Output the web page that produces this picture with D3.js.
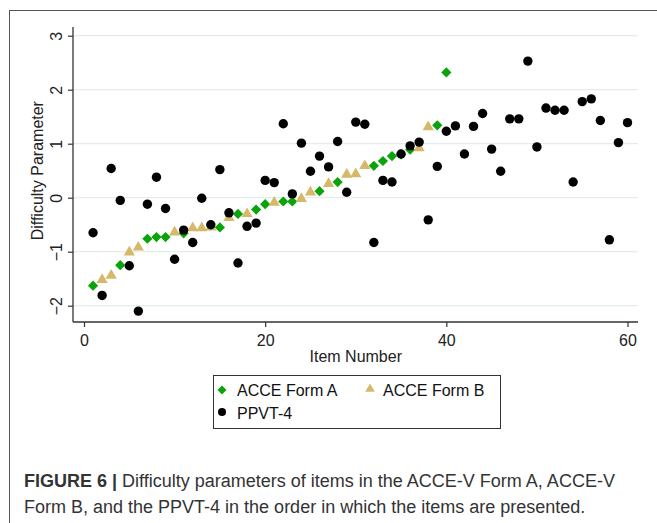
<!DOCTYPE html>
<html>
<head>
<meta charset="utf-8">
<script src="https://cdn.jsdelivr.net/npm/d3@7"></script>
<style>
  body { margin: 0; background: #fff; }
  svg { display: block; font-family: "Liberation Sans", Arial, sans-serif; }
</style>
</head>
<body>
<svg id="canvas" width="657" height="523"></svg>
<script>
// ---- data ----
var itemsA = [1, 4, 7, 8, 9, 11, 15, 17, 19, 20, 22, 23, 26, 28, 32, 33, 34, 35, 36, 39, 40];
var formA  = [-1.63, -1.25, -0.76, -0.73, -0.73, -0.66, -0.55, -0.30, -0.22, -0.12, -0.07, -0.07, 0.12, 0.29, 0.59, 0.68, 0.77, 0.80, 0.89, 1.34, 2.32];

var itemsB = [2, 3, 5, 6, 10, 12, 13, 14, 16, 18, 21, 24, 25, 27, 29, 30, 31, 37, 38];
var formB  = [-1.52, -1.44, -1.01, -0.92, -0.64, -0.56, -0.56, -0.55, -0.37, -0.30, -0.09, -0.02, 0.10, 0.26, 0.43, 0.44, 0.59, 0.92, 1.31];

var ppvt = [-0.65, -1.81, 0.54, -0.05, -1.26, -2.10, -0.12, 0.38, -0.20, -1.14,
            -0.60, -0.83, -0.01, -0.50, 0.52, -0.28, -1.21, -0.53, -0.47, 0.32,
             0.28, 1.37, 0.07, 1.01, 0.49, 0.77, 0.57, 1.04, 0.10, 1.40,
             1.36, -0.83, 0.32, 0.29, 0.81, 0.96, 1.03, -0.41, 0.58, 1.23,
             1.33, 0.81, 1.32, 1.56, 0.90, 0.49, 1.46, 1.46, 2.53, 0.94,
             1.66, 1.62, 1.62, 0.29, 1.78, 1.83, 1.43, -0.78, 1.02, 1.39];

var xTicks = [0, 20, 40, 60];
var yTicks = [-2, -1, 0, 1, 2, 3];
var legendLabels = ['ACCE Form A', 'ACCE Form B', 'PPVT-4'];
var captionBold = 'FIGURE 6 |';
var captionLine1 = ' Difficulty parameters of items in the ACCE-V Form A, ACCE-V';
var captionLine2 = 'Form B, and the PPVT-4 in the order in which the items are presented.';

// ---- layout ----
var svg = d3.select('#canvas');
var plot = { left: 73, right: 638, top: 27, bottom: 322 };
var green = '#0aa30a', sand = '#d6b86a', axisColor = '#333';

var xScale = d3.scaleLinear().domain([0, 60]).range([84, 627.5]);
var yScale = d3.scaleLinear().domain([-2, 3]).range([305.7, 35.7]);

// outer frame (runs past the right / bottom edge of the picture)
svg.append('rect').attr('x', 9.5).attr('y', 10.5).attr('width', 700).attr('height', 600)
  .attr('fill', 'none').attr('stroke', '#555').attr('stroke-width', 1);

// grid
svg.append('g').selectAll('line').data(yTicks).join('line')
  .attr('x1', plot.left).attr('x2', plot.right)
  .attr('y1', d => yScale(d)).attr('y2', d => yScale(d))
  .attr('stroke', '#e3edef').attr('stroke-width', 1.2);

// axes
var yAxis = svg.append('g').attr('transform', 'translate(' + plot.left + ',0)')
  .call(d3.axisLeft(yScale).tickValues(yTicks).tickSize(5).tickFormat(d3.format('d')));
yAxis.select('.domain').remove();
yAxis.selectAll('.tick line').attr('stroke', axisColor).attr('stroke-width', 1.2);
yAxis.selectAll('.tick text')
  .attr('transform', 'rotate(-90)').attr('text-anchor', 'middle')
  .attr('x', 0).attr('y', -11).attr('dy', null)
  .attr('fill', '#222').style('font-size', '16px');

var xAxis = svg.append('g').attr('transform', 'translate(0,' + plot.bottom + ')')
  .call(d3.axisBottom(xScale).tickValues(xTicks).tickSize(5));
xAxis.select('.domain').remove();
xAxis.selectAll('.tick line').attr('stroke', axisColor).attr('stroke-width', 1.2);
xAxis.selectAll('.tick text').attr('y', 24).attr('dy', null)
  .attr('fill', '#222').style('font-size', '16px');

svg.append('line').attr('x1', plot.left).attr('x2', plot.left).attr('y1', plot.top).attr('y2', plot.bottom)
  .attr('stroke', axisColor).attr('stroke-width', 1.3);
svg.append('line').attr('x1', plot.left).attr('x2', plot.right).attr('y1', plot.bottom).attr('y2', plot.bottom)
  .attr('stroke', axisColor).attr('stroke-width', 1.3);

// axis titles
svg.append('text').attr('x', (xScale(0) + xScale(60)) / 2).attr('y', 362).attr('text-anchor', 'middle')
  .attr('fill', '#222').style('font-size', '16px').text('Item Number');
svg.append('text').attr('transform', 'translate(43,' + (yScale(-2) + yScale(3)) / 2 + ') rotate(-90)')
  .attr('text-anchor', 'middle').attr('fill', '#222').style('font-size', '16px').text('Difficulty Parameter');

// markers
var diamond = d3.symbol().type(d3.symbolSquare).size(52);
var triangle = d3.symbol().type(d3.symbolTriangle).size(54);

svg.append('g').selectAll('path').data(itemsA).join('path')
  .attr('d', diamond)
  .attr('transform', (d, i) => 'translate(' + xScale(d) + ',' + yScale(formA[i]) + ') rotate(45)')
  .attr('fill', green);

svg.append('g').selectAll('path').data(itemsB).join('path')
  .attr('d', triangle)
  .attr('transform', (d, i) => 'translate(' + xScale(d) + ',' + yScale(formB[i]) + ')')
  .attr('fill', sand);

svg.append('g').selectAll('circle').data(ppvt).join('circle')
  .attr('cx', (d, i) => xScale(i + 1)).attr('cy', d => yScale(d)).attr('r', 4.7)
  .attr('fill', '#000');

// legend
var legend = svg.append('g').attr('transform', 'translate(213,375)');
legend.append('rect').attr('x', 0.5).attr('y', 0.5).attr('width', 287).attr('height', 53)
  .attr('fill', '#fff').attr('stroke', '#333').attr('stroke-width', 1);
legend.append('path').attr('d', d3.symbol().type(d3.symbolSquare).size(40))
  .attr('transform', 'translate(9,15) rotate(45)').attr('fill', green);
legend.append('path').attr('d', d3.symbol().type(d3.symbolTriangle).size(40))
  .attr('transform', 'translate(157,14)').attr('fill', sand);
legend.append('circle').attr('cx', 9).attr('cy', 37).attr('r', 4).attr('fill', '#000');
var legendPos = [[24, 21], [170, 21], [24, 44]];
legend.selectAll('text.lbl').data(legendLabels).join('text').attr('class', 'lbl')
  .attr('x', (d, i) => legendPos[i][0]).attr('y', (d, i) => legendPos[i][1])
  .attr('fill', '#111').style('font-size', '16px').text(d => d);

// caption
var cap = svg.append('text').attr('x', 24).attr('y', 487).attr('fill', '#333').style('font-size', '18px');
cap.append('tspan').attr('font-weight', 'bold').text(captionBold);
cap.append('tspan').text(captionLine1);
svg.append('text').attr('x', 24).attr('y', 513).attr('fill', '#333').style('font-size', '18px').text(captionLine2);
</script>
</body>
</html>
